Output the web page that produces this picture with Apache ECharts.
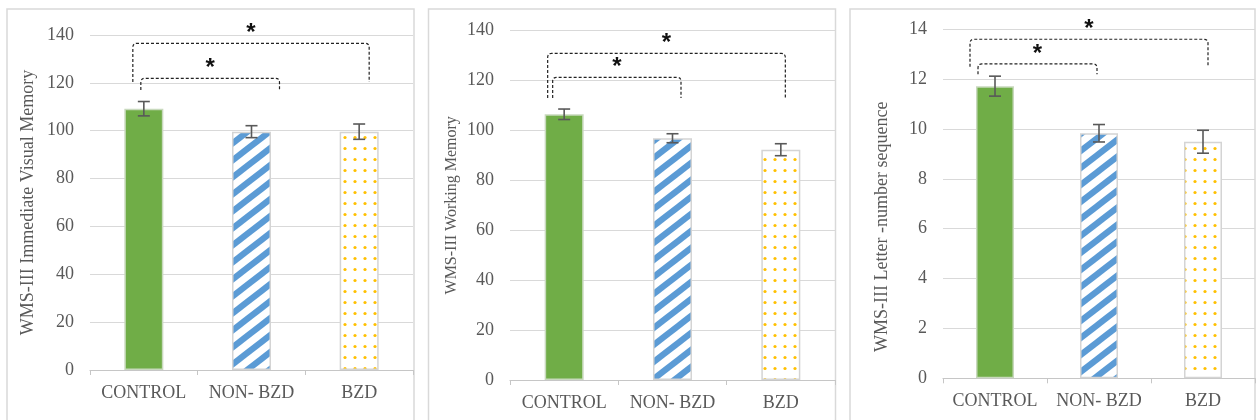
<!DOCTYPE html>
<html>
<head>
<meta charset="utf-8">
<script src="https://cdn.jsdelivr.net/npm/echarts@6/dist/echarts.min.js"></script>
<style>
html,body{margin:0;padding:0;background:#fff;}
#chart{width:1257px;height:420px;}
</style>
</head>
<body>
<div id="chart"></div>
<script>
// ---------------- DATA ----------------
const categories = ['CONTROL', 'NON- BZD', 'BZD'];

const visualMemoryMeans = [109.2, 99.6, 99.6];
const visualMemoryErrors = [3.0, 2.5, 3.2];

const workingMemoryMeans = [106.5, 96.9, 92.3];
const workingMemoryErrors = [2.1, 1.8, 2.4];

const letterNumberMeans = [11.72, 9.83, 9.49];
const letterNumberErrors = [0.4, 0.35, 0.46];

// brackets: [fromCategory, toCategory, topValue, leftLegEndValue, rightLegEndValue]
const visualMemoryBrackets = [[0, 2, 136.5, 120.4, 120.4], [0, 1, 121.9, 117, 117]];
const workingMemoryBrackets = [[0, 2, 130.9, 113, 113], [0, 1, 121.3, 113, 113]];
const letterNumberBrackets = [[0, 2, 13.6, 12.5, 12.5], [0, 1, 12.61, 12.2, 12.2]];

const axisTitles = ['WMS-III Immediate Visual Memory', 'WMS-III Working Memory', 'WMS-III Letter -number sequence'];
const yMax = [140, 140, 14];
const yInterval = [20, 20, 2];

// ---------------- STYLE / LAYOUT ----------------
const FONT = 'Liberation Serif';
const GREY = '#595959';

function stripeCanvas() {
  const W = 22, H = 17;
  const c = document.createElement('canvas');
  c.width = W; c.height = H;
  const ctx = c.getContext('2d');
  ctx.fillStyle = '#ffffff';
  ctx.fillRect(0, 0, W, H);
  ctx.strokeStyle = '#5B9BD5';
  ctx.lineWidth = 6.2;
  for (let k = -1; k <= 1; k++) {
    ctx.beginPath();
    ctx.moveTo(-W, H + k * H + H);
    ctx.lineTo(2 * W, k * H - H);
    ctx.stroke();
  }
  return c;
}
function dotCanvas() {
  const W = 10, H = 11;
  const c = document.createElement('canvas');
  c.width = W; c.height = H;
  const ctx = c.getContext('2d');
  ctx.fillStyle = '#ffffff';
  ctx.fillRect(0, 0, W, H);
  ctx.fillStyle = '#FFC000';
  ctx.beginPath();
  ctx.arc(5, 5.5, 1.6, 0, Math.PI * 2);
  ctx.fill();
  return c;
}
const fills = [
  '#70AD47',
  { image: stripeCanvas(), repeat: 'repeat' },
  { image: dotCanvas(), repeat: 'repeat' }
];

const panels = [
  { means: visualMemoryMeans, errors: visualMemoryErrors, brackets: visualMemoryBrackets,
    grid: { left: 90, right: 844, top: 35, bottom: 50 }, nameGap: 53, namePad: [0, 0, 0, 0], nameSize: 18,
    dx: [[-11, 10], [-3, 28]], barW: 39 },
  { means: workingMemoryMeans, errors: workingMemoryErrors, brackets: workingMemoryBrackets,
    grid: { left: 510, right: 422, top: 30.7, bottom: 40 }, nameGap: 50, namePad: [0, 0, 0, 0], nameSize: 16,
    dx: [[-16.5, 4.5], [-11.5, 8.5]], barW: 39 },
  { means: letterNumberMeans, errors: letterNumberErrors, brackets: letterNumberBrackets,
    grid: { left: 943, right: 2, top: 29.3, bottom: 41.7 }, nameGap: 52, namePad: [0, 46, 0, 0], nameSize: 18,
    dx: [[-25, 5], [-17, -2]], barW: 38 }
];

const grids = [], xAxes = [], yAxes = [], series = [];
panels.forEach((p, i) => {
  grids.push(p.grid);
  xAxes.push({
    type: 'category', gridIndex: i, data: categories,
    axisLine: { lineStyle: { color: '#c6c6c6', width: 1.2 } },
    axisTick: { show: true, length: 5, lineStyle: { color: '#c6c6c6' } },
    axisLabel: { color: GREY, fontFamily: FONT, fontSize: 18, margin: 14, interval: 0 }
  });
  yAxes.push({
    type: 'value', gridIndex: i, min: 0, max: yMax[i], interval: yInterval[i],
    name: axisTitles[i], nameLocation: 'middle', nameGap: p.nameGap,
    nameTextStyle: { color: GREY, fontFamily: FONT, fontSize: p.nameSize, padding: p.namePad },
    axisLine: { show: false }, axisTick: { show: false },
    axisLabel: { color: GREY, fontFamily: FONT, fontSize: 18, margin: 16 },
    splitLine: { lineStyle: { color: '#d9d9d9', width: 1.2 } }
  });
  series.push({
    type: 'bar', xAxisIndex: i, yAxisIndex: i, barWidth: p.barW,
    data: p.means.map((v, k) => ({
      value: v,
      itemStyle: { color: fills[k], borderColor: k === 0 ? '#c8d9bd' : '#d4d4d4', borderWidth: 1.5 }
    }))
  });
  series.push({
    type: 'custom', xAxisIndex: i, yAxisIndex: i, z: 5,
    data: p.means.map((v, k) => [k, v, p.errors[k]]),
    renderItem: function (params, api) {
      const x = api.value(0), m = api.value(1), e = api.value(2);
      const hi = api.coord([x, m + e]);
      const lo = api.coord([x, m - e]);
      const cw = 6;
      const st = { stroke: '#595959', lineWidth: 1.6, fill: null };
      return { type: 'group', children: [
        { type: 'line', shape: { x1: hi[0], y1: hi[1], x2: lo[0], y2: lo[1] }, style: st },
        { type: 'line', shape: { x1: hi[0] - cw, y1: hi[1], x2: hi[0] + cw, y2: hi[1] }, style: st },
        { type: 'line', shape: { x1: lo[0] - cw, y1: lo[1], x2: lo[0] + cw, y2: lo[1] }, style: st }
      ]};
    }
  });
  series.push({
    type: 'custom', xAxisIndex: i, yAxisIndex: i, z: 6,
    data: p.brackets,
    renderItem: function (params, api) {
      const d = p.dx[params.dataIndex];
      const a = api.coord([api.value(0), api.value(2)]);
      const b = api.coord([api.value(1), api.value(2)]);
      const la = api.coord([api.value(0), api.value(3)]);
      const lb = api.coord([api.value(1), api.value(4)]);
      const x1 = a[0] + d[0], x2 = b[0] + d[1], yt = a[1];
      const r = 4;
      const path = 'M' + x1 + ' ' + la[1] + ' L' + x1 + ' ' + (yt + r) +
        ' Q' + x1 + ' ' + yt + ' ' + (x1 + r) + ' ' + yt +
        ' L' + (x2 - r) + ' ' + yt +
        ' Q' + x2 + ' ' + yt + ' ' + x2 + ' ' + (yt + r) +
        ' L' + x2 + ' ' + lb[1];
      return { type: 'group', children: [
        { type: 'path', shape: { pathData: path },
          style: { stroke: '#222', lineWidth: 1.2, fill: null, lineDash: [3, 2] } },
        { type: 'text', x: (x1 + x2) / 2, y: yt - 22,
          style: { text: '*', font: 'bold 24px "Liberation Sans"', fill: '#111', align: 'center', verticalAlign: 'top' } }
      ]};
    }
  });
});

const chart = echarts.init(document.getElementById('chart'), null, { renderer: 'canvas' });
chart.setOption({
  animation: false,
  backgroundColor: '#ffffff',
  graphic: [
    { type: 'rect', shape: { x: 7, y: 9, width: 407, height: 430 }, style: { fill: null, stroke: '#d9d9d9', lineWidth: 1.5 }, silent: true },
    { type: 'rect', shape: { x: 428.5, y: 9, width: 407, height: 430 }, style: { fill: null, stroke: '#d9d9d9', lineWidth: 1.5 }, silent: true },
    { type: 'rect', shape: { x: 850, y: 9, width: 405, height: 430 }, style: { fill: null, stroke: '#d9d9d9', lineWidth: 1.5 }, silent: true }
  ],
  grid: grids,
  xAxis: xAxes,
  yAxis: yAxes,
  series: series
});
</script>
</body>
</html>
